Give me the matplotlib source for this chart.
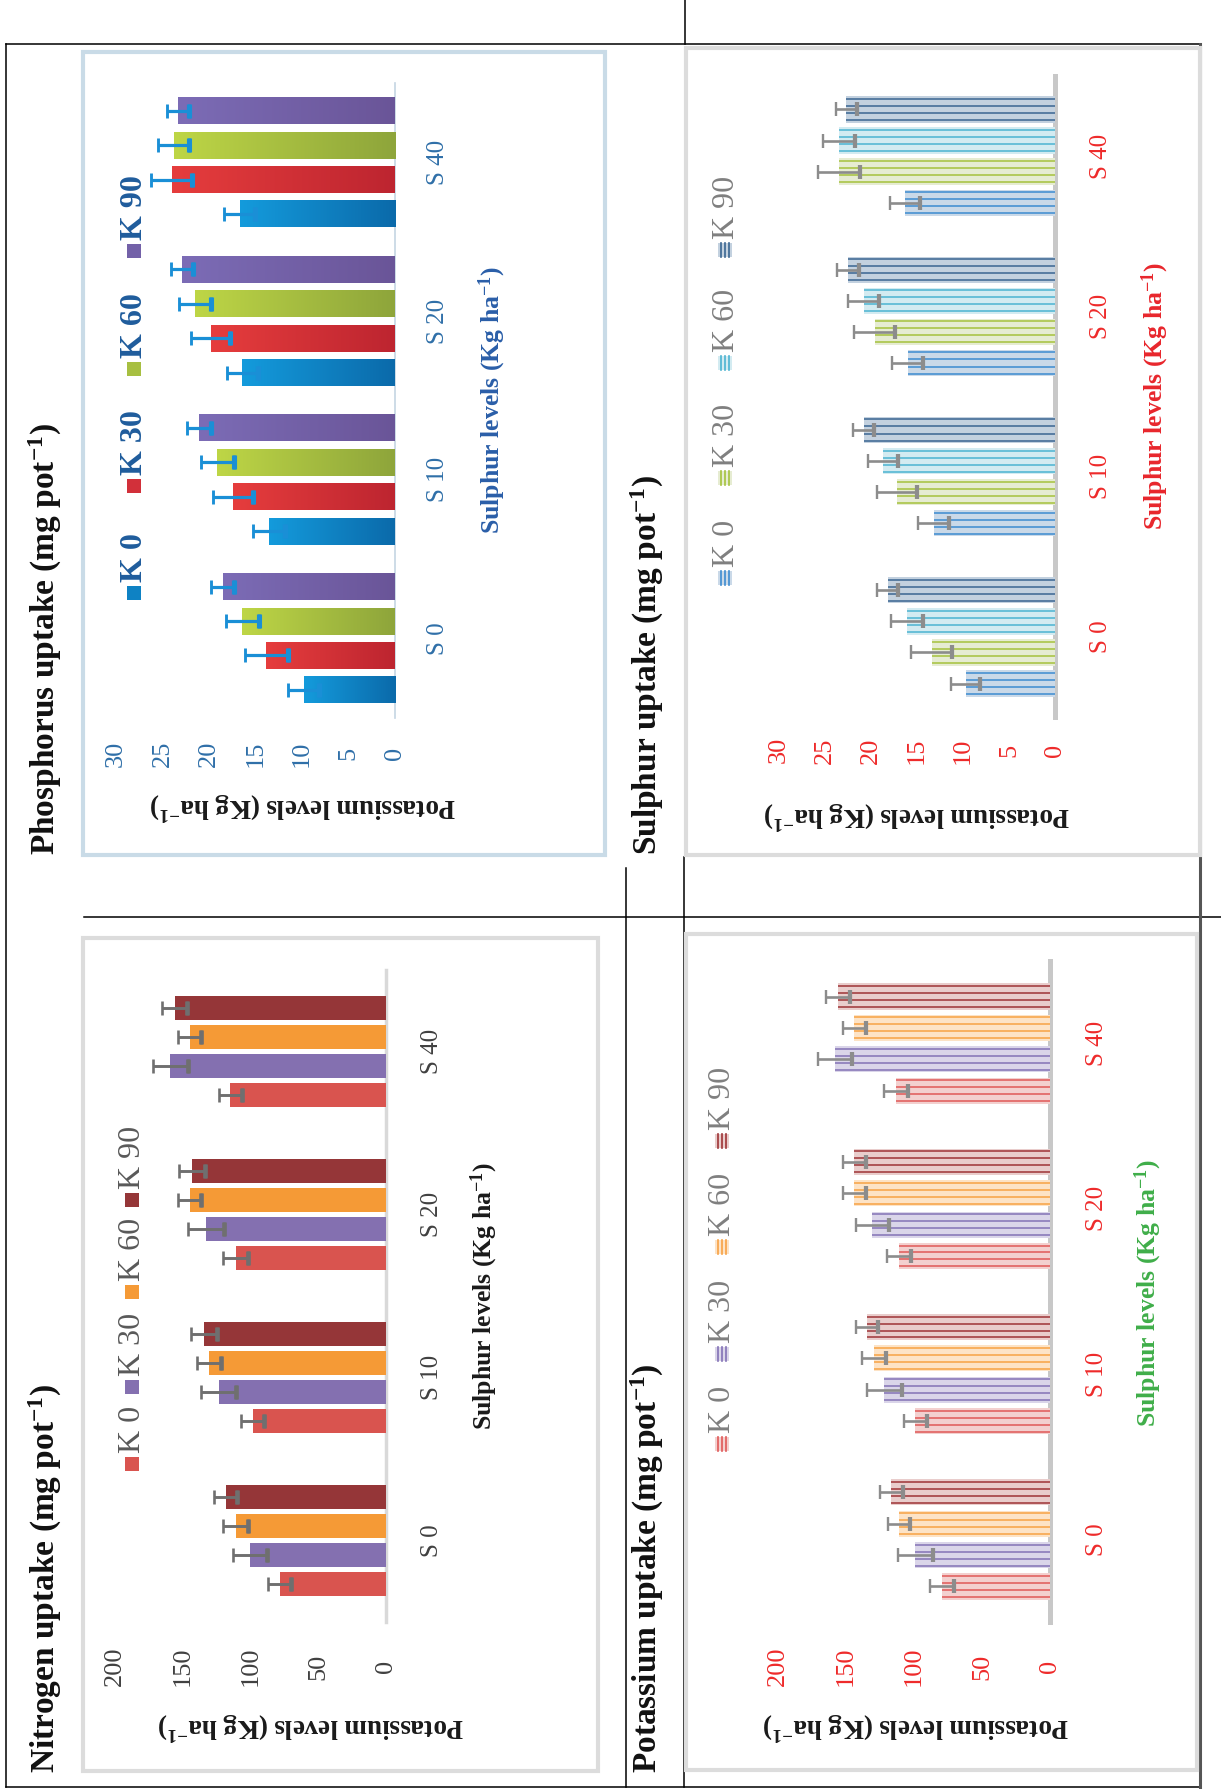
import numpy as np
import matplotlib
matplotlib.use("Agg")
import matplotlib.pyplot as plt
from matplotlib.colors import LinearSegmentedColormap
from matplotlib.patches import Rectangle
from matplotlib.lines import Line2D

plt.rcParams["font.family"] = ["Liberation Serif", "DejaVu Serif"]
plt.rcParams["mathtext.fontset"] = "custom"
plt.rcParams["mathtext.rm"] = "Liberation Serif"
plt.rcParams["mathtext.bf"] = "Liberation Serif:bold"
plt.rcParams["mathtext.it"] = "Liberation Serif:italic"

W, H = 1221, 1789

sulphur_levels = ["S 0", "S 10", "S 20", "S 40"]
potassium_levels = ["K 0", "K 30", "K 60", "K 90"]

# Nitrogen uptake (mg pot-1), one list per potassium level, S0..S40
n_k0 = [78.5, 98.3, 111.0, 114.8]
n_k30 = [100.3, 123.5, 132.8, 159.3]
n_k60 = [111.0, 130.8, 145.0, 145.0]
n_k90 = [118.3, 134.3, 143.0, 156.0]
n_err_k0 = [8.7, 8.4, 9.0, 8.7]
n_err_k30 = [12.4, 13.0, 13.4, 13.0]
n_err_k60 = [9.0, 8.7, 8.7, 8.7]
n_err_k90 = [8.7, 9.4, 9.6, 9.4]

# Phosphorus uptake (mg pot-1)
p_k0 = [9.8, 13.5, 16.4, 16.7]
p_k30 = [13.8, 17.4, 19.8, 24.0]
p_k60 = [16.4, 19.1, 21.5, 23.8]
p_k90 = [18.5, 21.1, 22.9, 23.3]
p_err_k0 = [1.7, 1.7, 1.65, 1.7]
p_err_k30 = [2.3, 2.2, 2.1, 2.2]
p_err_k60 = [1.75, 1.8, 1.7, 1.7]
p_err_k90 = [1.25, 1.3, 1.15, 1.2]

# Potassium uptake (mg pot-1)
k_k0 = [79.2, 98.9, 111.0, 113.0]
k_k30 = [98.9, 121.9, 130.6, 157.9]
k_k60 = [111.0, 129.2, 143.8, 143.8]
k_k90 = [116.6, 134.6, 143.8, 155.9]
k_err_k0 = [8.7, 8.4, 8.7, 8.7]
k_err_k30 = [12.6, 12.9, 12.4, 12.6]
k_err_k60 = [8.0, 8.7, 8.7, 8.7]
k_err_k90 = [8.7, 8.4, 8.7, 8.7]

# Sulphur uptake (mg pot-1)
s_k0 = [9.7, 13.2, 16.0, 16.3]
s_k30 = [13.4, 17.2, 19.6, 23.5]
s_k60 = [16.1, 18.7, 20.8, 23.5]
s_k90 = [18.2, 20.8, 22.5, 22.7]
s_err_k0 = [1.6, 1.67, 1.67, 1.67]
s_err_k30 = [2.25, 2.2, 2.2, 2.3]
s_err_k60 = [1.7, 1.67, 1.67, 1.77]
s_err_k90 = [1.1, 1.15, 1.2, 1.15]

small_ticks = [0, 5, 10, 15, 20, 25, 30]
large_ticks = [0, 50, 100, 150, 200]

fig = plt.figure(figsize=(W / 100, H / 100), dpi=100)


def fx(x):
    return x / W


def fy(y):
    return 1 - y / H


def rule(x0, y0, x1, y1, color="black", lw=1.1):
    fig.add_artist(Line2D([fx(x0), fx(x1)], [fy(y0), fy(y1)],
                          color=color, lw=lw, zorder=-3))


def frame(left, top, right, bottom, color):
    fig.add_artist(Rectangle((fx(left), fy(bottom)), (right - left) / W,
                             (bottom - top) / H, facecolor="white",
                             edgecolor=color, lw=3, zorder=-2))


def legend(x, ys, fills, lines, text_color, bold):
    for yc, fill, line, lab in zip(ys, fills, lines, potassium_levels):
        fig.add_artist(Rectangle((fx(x - 7), fy(yc + 7)), 14 / W, 14 / H,
                                 facecolor=fill, edgecolor="none", zorder=2))
        if line is not None:
            for dx in (-4, 0, 4):
                fig.add_artist(Line2D([fx(x + dx)] * 2, [fy(yc - 7), fy(yc + 7)],
                                      color=line, lw=1.2, zorder=3))
        fig.text(fx(x + 1), fy(yc - 11), lab, rotation=90, ha="center",
                 va="bottom", fontsize=23, color=text_color,
                 fontweight="bold" if bold else "normal")


def panel(box, vals, errs, xmax, ticks, pitch, bar_h, fills, tick_color,
          err_color, err_lw, axis_color, axis_lw, pads,
          gradients=None, stripes=None):
    left, top, right, bottom = box
    ax = fig.add_axes([fx(left), fy(bottom), (right - left) / W, (bottom - top) / H])
    ax.patch.set_visible(False)
    y = np.arange(len(sulphur_levels))
    for j in range(4):
        v = np.asarray(vals[j])
        e = np.asarray(errs[j])
        yy = y + (j - 1.5) * pitch
        ax.barh(yy, v, height=bar_h, color=fills[j], zorder=2)
        if gradients is not None:
            cmap = LinearSegmentedColormap.from_list("g%d" % j, gradients[j])
            for vi, yi in zip(v, yy):
                ax.imshow(np.linspace(0, 1, 256).reshape(1, -1), cmap=cmap,
                          extent=(0, vi, yi - bar_h / 2, yi + bar_h / 2),
                          aspect="auto", interpolation="bilinear", zorder=2.5)
        if stripes is not None:
            for off in (-0.4, -0.133, 0.133, 0.4):
                ax.hlines(yy + off * bar_h, 0, v, colors=stripes[j], lw=1.1, zorder=3)
        ax.errorbar(v, yy, xerr=e, fmt="none", ecolor=err_color, elinewidth=err_lw,
                    capsize=4.8, capthick=err_lw * 0.9, zorder=4)
        ax.plot(v - e, yy, ls="none", marker="|", ms=9.6, mew=err_lw * 1.6,
                color=err_color, zorder=4)
    ax.set_xlim(xmax, 0)
    ax.set_ylim(-0.5, 3.5)
    for s in ("left", "top", "bottom"):
        ax.spines[s].set_visible(False)
    ax.spines["right"].set_color(axis_color)
    ax.spines["right"].set_linewidth(axis_lw)
    ax.spines["right"].set_zorder(1)
    ax.set_xticks(ticks)
    ax.set_xticklabels([str(t) for t in ticks])
    ax.tick_params(axis="x", length=0, pad=pads[0], labelsize=19,
                   labelcolor=tick_color, labelrotation=90)
    for t in ax.get_xticklabels():
        t.set_verticalalignment("center")
    ax.yaxis.tick_right()
    ax.set_yticks(y)
    ax.set_yticklabels(sulphur_levels)
    ax.tick_params(axis="y", length=0, pad=pads[1], labelsize=18,
                   labelcolor=tick_color, labelrotation=90)
    for t in ax.get_yticklabels():
        t.set_horizontalalignment("center")
        t.set_verticalalignment("center")
    return ax


# table rules around the four panels
rule(685, 0, 685, 44)
rule(6, 44, 1200, 44)
rule(6, 44, 6, 1787)
rule(6, 1787, 1200, 1787)
rule(84, 917, 1221, 917)
rule(626, 868, 626, 1787)
rule(684, 857, 684, 1787)
rule(1200, 44, 1200, 1787, color="#555555", lw=2.2)

frame(83, 52, 605, 855, "#c9dbe7")
frame(686, 48, 1200, 855, "#dcdcdc")
frame(83, 938, 598, 1771, "#dcdcdc")
frame(686, 934, 1197, 1770, "#dcdcdc")

axis_label_size = 18.5
value_label_size = 19.5

# Phosphorus
panel((116, 83, 394.6, 717.6), [p_k0, p_k30, p_k60, p_k90],
      [p_err_k0, p_err_k30, p_err_k60, p_err_k90], 30, small_ticks, 0.217, 0.17,
      ["#0e82c4", "#d2303a", "#a7bf41", "#7361a8"], "#2f6fa8",
      "#1a8fd6", 2.3, "#c5d5e3", 1.2, (26, 31),
      gradients=[("#0b6aaa", "#149bdc"), ("#bd2530", "#e63d3d"),
                 ("#8ea53b", "#bed646"), ("#6a5598", "#7c6cb6")])
legend(134, [593, 486, 369, 251], ["#0e82c4", "#d2303a", "#a7bf41", "#7361a8"],
       [None] * 4, "#1f5c9c", True)
fig.text(fx(45), fy(855), r"Phosphorus uptake (mg pot$^{\mathbf{-1}}$)", rotation=90,
         ha="center", va="bottom", fontsize=24, fontweight="bold", color="#111111")
fig.text(fx(492), fy(400), r"Sulphur levels (Kg ha$^{\mathbf{-1}}$)", rotation=90,
         ha="center", va="center", fontsize=axis_label_size, fontweight="bold",
         color="#2a5ea8")
fig.text(fx(303), fy(806), r"Potassium levels (Kg ha$^{\mathbf{-1}}$)", rotation=180,
         ha="center", va="center", fontsize=value_label_size, fontweight="bold",
         color="#1a1a1a")

# Sulphur
panel((779, 76, 1055, 717), [s_k0, s_k30, s_k60, s_k90],
      [s_err_k0, s_err_k30, s_err_k60, s_err_k90], 30, small_ticks, 0.194, 0.165,
      ["#cad9e8", "#e6ecd2", "#d3ebf1", "#c3d1df"], "#ee2a2a",
      "#8c8c8c", 1.9, "#c8c8c8", 3.6, (24, 33),
      stripes=["#3d8bd0", "#a5c23c", "#4cb3d1", "#3a6592"])
legend(725, [578, 478, 363, 250], ["#cad9e8", "#e6ecd2", "#d3ebf1", "#c3d1df"],
       ["#3d8bd0", "#a5c23c", "#4cb3d1", "#3a6592"], "#7f7f7f", False)
fig.text(fx(647), fy(855), r"Sulphur uptake (mg pot$^{\mathbf{-1}}$)", rotation=90,
         ha="center", va="bottom", fontsize=24, fontweight="bold", color="#111111")
fig.text(fx(1155), fy(396), r"Sulphur levels (Kg ha$^{\mathbf{-1}}$)", rotation=90,
         ha="center", va="center", fontsize=axis_label_size, fontweight="bold",
         color="#e8262c")
fig.text(fx(917), fy(815), r"Potassium levels (Kg ha$^{\mathbf{-1}}$)", rotation=180,
         ha="center", va="center", fontsize=value_label_size, fontweight="bold",
         color="#1a1a1a")

# Nitrogen
panel((115, 970, 386, 1622), [n_k0, n_k30, n_k60, n_k90],
      [n_err_k0, n_err_k30, n_err_k60, n_err_k90], 200, large_ticks, 0.178, 0.142,
      ["#d9544f", "#8470b0", "#f59a36", "#953638"], "#404040",
      "#6f6f6f", 2.1, "#d9d9d9", 2.5, (32, 33))
legend(132, [1464, 1387, 1292, 1200], ["#d9544f", "#8470b0", "#f59a36", "#953638"],
       [None] * 4, "#595959", False)
fig.text(fx(45), fy(1773), r"Nitrogen uptake (mg pot$^{\mathbf{-1}}$)", rotation=90,
         ha="center", va="bottom", fontsize=24, fontweight="bold", color="#111111")
fig.text(fx(484), fy(1296), r"Sulphur levels (Kg ha$^{\mathbf{-1}}$)", rotation=90,
         ha="center", va="center", fontsize=axis_label_size, fontweight="bold",
         color="#1a1a1a")
fig.text(fx(311), fy(1726), r"Potassium levels (Kg ha$^{\mathbf{-1}}$)", rotation=180,
         ha="center", va="center", fontsize=value_label_size, fontweight="bold",
         color="#1a1a1a")

# Potassium
panel((778, 961, 1050, 1622), [k_k0, k_k30, k_k60, k_k90],
      [k_err_k0, k_err_k30, k_err_k60, k_err_k90], 200, large_ticks, 0.19, 0.158,
      ["#f3d0cf", "#dad5e9", "#fde3c6", "#e9cdcc"], "#ee2a2a",
      "#8c8c8c", 1.9, "#c8c8c8", 3.6, (32, 33.5),
      stripes=["#e05858", "#8372b6", "#f7a244", "#9e3436"])
legend(722, [1444, 1354, 1247, 1141], ["#f3d0cf", "#dad5e9", "#fde3c6", "#e9cdcc"],
       ["#e05858", "#8372b6", "#f7a244", "#9e3436"], "#7f7f7f", False)
fig.text(fx(647), fy(1773), r"Potassium uptake (mg pot$^{\mathbf{-1}}$)", rotation=90,
         ha="center", va="bottom", fontsize=24, fontweight="bold", color="#111111")
fig.text(fx(1148), fy(1293), r"Sulphur levels (Kg ha$^{\mathbf{-1}}$)", rotation=90,
         ha="center", va="center", fontsize=axis_label_size, fontweight="bold",
         color="#3fae49")
fig.text(fx(916), fy(1726), r"Potassium levels (Kg ha$^{\mathbf{-1}}$)", rotation=180,
         ha="center", va="center", fontsize=value_label_size, fontweight="bold",
         color="#1a1a1a")

fig.savefig("out.png", dpi=100)
